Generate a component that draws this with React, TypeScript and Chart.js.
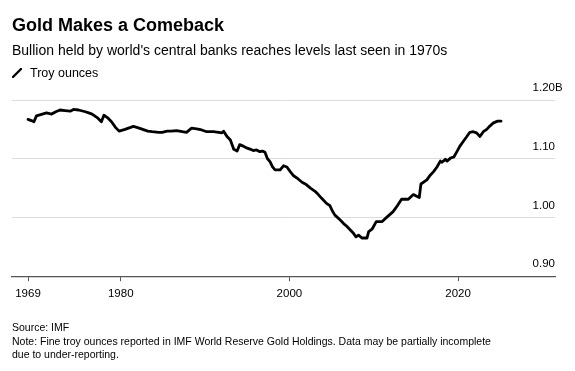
import React, { useEffect, useRef } from "react";
import { Chart, registerables } from "chart.js";

Chart.register(...registerables);

const years: number[] = [
  1969.0, 1969.4, 1969.7, 1970.0, 1970.5, 1971.2, 1971.8, 1972.3, 1972.8, 1973.4,
  1974.0, 1974.4, 1975.0, 1975.8, 1976.2, 1976.6, 1977.2, 1977.7, 1978.0, 1978.5,
  1978.9, 1979.4, 1979.8, 1980.5, 1981.5, 1982.0, 1982.6, 1983.2, 1983.7, 1984.5,
  1984.9, 1985.5, 1986.0, 1986.6, 1987.3, 1987.8, 1988.4, 1989.0, 1989.6, 1990.2,
  1991.0, 1991.6, 1992.0, 1992.2, 1992.6, 1993.0, 1993.4, 1993.8, 1994.1, 1994.6,
  1995.0, 1995.4, 1995.7, 1996.1, 1996.5, 1996.8, 1997.1, 1997.4, 1997.7, 1998.0,
  1998.3, 1998.9, 1999.3, 1999.7, 2000.1, 2000.5, 2001.0, 2001.5, 2002.0, 2002.5,
  2003.0, 2003.3, 2003.8, 2004.4, 2004.8, 2005.1, 2005.4, 2006.0, 2006.4, 2006.8,
  2007.2, 2007.6, 2007.9, 2008.2, 2008.6, 2009.2, 2009.4, 2009.8, 2010.3, 2011.0,
  2011.6, 2012.3, 2012.8, 2013.3, 2014.1, 2014.7, 2015.1, 2015.4, 2015.6, 2016.3,
  2016.7, 2017.1, 2017.5, 2017.9, 2018.1, 2018.5, 2018.7, 2019.1, 2019.5, 2019.9,
  2020.2, 2020.7, 2021.0, 2021.4, 2021.8, 2022.2, 2022.6, 2023.0, 2023.4, 2023.8,
  2024.2, 2024.7, 2025.1,
];

const ounces: number[] = [
  1.167, 1.165, 1.163, 1.173, 1.175, 1.178, 1.176, 1.180, 1.183, 1.182,
  1.181, 1.184, 1.183, 1.180, 1.178, 1.176, 1.170, 1.163, 1.174, 1.169,
  1.163, 1.153, 1.147, 1.150, 1.155, 1.153, 1.150, 1.147, 1.146, 1.145,
  1.145, 1.147, 1.147, 1.148, 1.146, 1.145, 1.152, 1.151, 1.149, 1.146,
  1.146, 1.145, 1.144, 1.147, 1.138, 1.132, 1.116, 1.113, 1.124, 1.121,
  1.118, 1.116, 1.114, 1.115, 1.112, 1.113, 1.111, 1.100, 1.095, 1.086,
  1.081, 1.081, 1.088, 1.086, 1.078, 1.071, 1.066, 1.060, 1.056, 1.050,
  1.045, 1.041, 1.033, 1.024, 1.020, 1.011, 1.004, 0.996, 0.990, 0.985,
  0.979, 0.973, 0.967, 0.970, 0.965, 0.965, 0.976, 0.980, 0.993, 0.993,
  1.001, 1.010, 1.020, 1.031, 1.031, 1.039, 1.036, 1.034, 1.057, 1.064,
  1.072, 1.078, 1.086, 1.096, 1.094, 1.099, 1.096, 1.101, 1.103, 1.113,
  1.121, 1.131, 1.137, 1.145, 1.146, 1.144, 1.138, 1.146, 1.150, 1.156,
  1.161, 1.164, 1.164,
];

const xTickYears: number[] = [1969, 1980, 2000, 2020];
const yTickValues: number[] = [0.9, 1.0, 1.1, 1.2];

const FONT = "'Liberation Sans', Arial, sans-serif";

export default function App() {
  const canvasRef = useRef<HTMLCanvasElement | null>(null);

  useEffect(() => {
    if (!canvasRef.current) return;
    const suffixPlugin = {
      id: "bSuffix",
      afterDraw(chart: any) {
        const y = chart.scales.y;
        const ctx = chart.ctx;
        const top = yTickValues[yTickValues.length - 1];
        ctx.save();
        ctx.font = `11.5px ${FONT}`;
        ctx.fillStyle = "#000";
        ctx.textAlign = "left";
        ctx.textBaseline = "middle";
        ctx.fillText("B", chart.chartArea.right, y.getPixelForValue(top) - 12);
        ctx.restore();
      },
    };
    const chart = new Chart(canvasRef.current, {
      type: "line",
      data: {
        datasets: [
          {
            label: "Troy ounces",
            data: years.map((yr, i) => ({ x: yr, y: ounces[i] })),
            borderColor: "#000",
            borderWidth: 2.8,
            pointRadius: 0,
            tension: 0,
            borderJoinStyle: "round",
            borderCapStyle: "round",
          },
        ],
      },
      options: {
        animation: false,
        responsive: false,
        maintainAspectRatio: false,
        layout: { padding: { left: 12, right: 20, top: 100, bottom: 64 } },
        plugins: {
          legend: { display: false },
          tooltip: { enabled: false },
          title: { display: false },
        },
        scales: {
          x: {
            type: "linear",
            min: 1967.1,
            max: 2031.5,
            afterBuildTicks: (axis: any) => {
              axis.ticks = xTickYears.map((v) => ({ value: v }));
            },
            ticks: {
              callback: (v: any) => String(v),
              font: { family: FONT, size: 11.5 },
              color: "#000",
              padding: 6,
              maxRotation: 0,
              autoSkip: false,
            },
            grid: {
              drawOnChartArea: false,
              drawTicks: true,
              tickLength: 5,
              color: "#555",
            },
            border: { display: true, color: "#555", width: 1.2 },
          },
          y: {
            type: "linear",
            position: "right",
            min: 0.9,
            max: 1.2,
            afterBuildTicks: (axis: any) => {
              axis.ticks = yTickValues.map((v) => ({ value: v }));
            },
            ticks: {
              mirror: true,
              padding: 0,
              labelOffset: -12,
              font: { family: FONT, size: 11.5 },
              color: "#000",
              callback: (v: any) => Number(v).toFixed(2),
            },
            grid: { drawTicks: false, color: "#dcdcdc", lineWidth: 1 },
            border: { display: false },
          },
        },
      },
      plugins: [suffixPlugin],
    });
    return () => chart.destroy();
  }, []);

  const text: React.CSSProperties = { position: "absolute", left: 12, fontFamily: FONT, color: "#000", whiteSpace: "nowrap" };

  return (
    <div style={{ position: "fixed", left: 0, top: 0, width: 575, height: 371, background: "#fff", overflow: "hidden" }}>
      <canvas ref={canvasRef} width={575} height={371} style={{ position: "absolute", left: 0, top: 0, width: 575, height: 371 }} />
      <div style={{ ...text, top: 14, fontSize: 18, fontWeight: 700, lineHeight: "22px" }}>Gold Makes a Comeback</div>
      <div style={{ ...text, top: 40, fontSize: 14, lineHeight: "20px" }}>
        Bullion held by world's central banks reaches levels last seen in 1970s
      </div>
      <div style={{ ...text, top: 65, fontSize: 12.5, lineHeight: "16px", display: "flex", alignItems: "center" }}>
        <svg width="10" height="10" style={{ marginRight: 8 }}>
          <line x1="1" y1="9" x2="9" y2="1" stroke="#000" strokeWidth="2.4" strokeLinecap="round" />
        </svg>
        Troy ounces
      </div>
      <div style={{ ...text, top: 321, fontSize: 10.5, lineHeight: "13.5px" }}>
        Source: IMF
        <br />
        Note: Fine troy ounces reported in IMF World Reserve Gold Holdings. Data may be partially incomplete
        <br />
        due to under-reporting.
      </div>
    </div>
  );
}
